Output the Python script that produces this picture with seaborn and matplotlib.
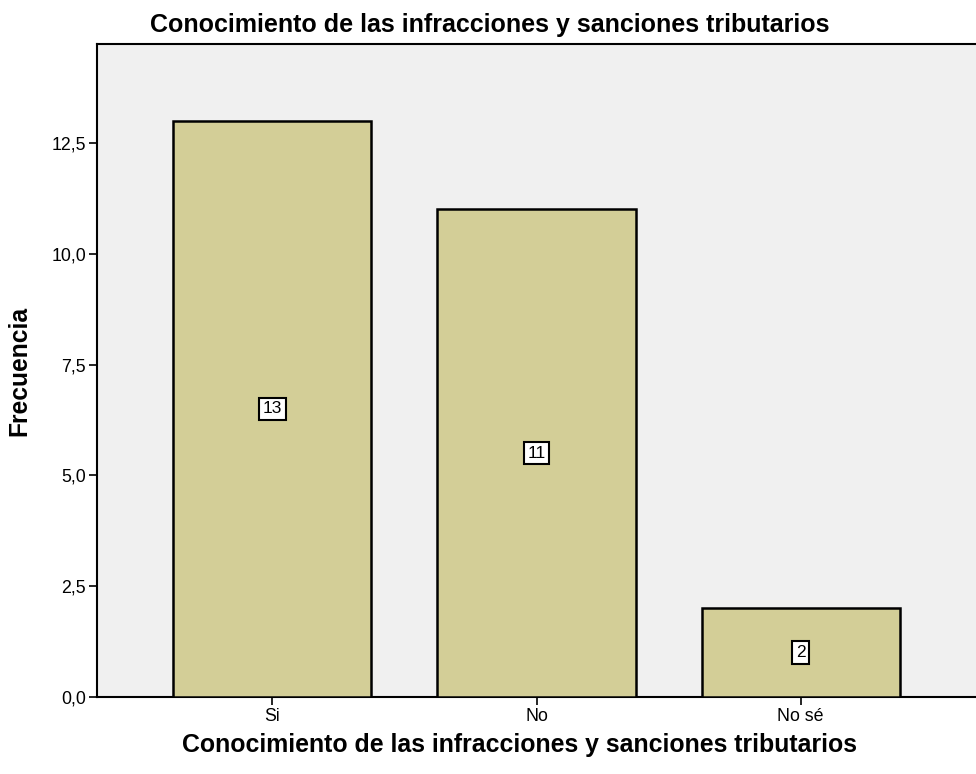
import matplotlib
matplotlib.use("Agg")
import matplotlib.pyplot as plt
import seaborn as sns
import pandas as pd

categories = ["Si", "No", "No sé"]
frecuencia = [13, 11, 2]
yticks = [0.0, 2.5, 5.0, 7.5, 10.0, 12.5]
ytick_labels = ["0,0", "2,5", "5,0", "7,5", "10,0", "12,5"]
title = "Conocimiento de las infracciones y sanciones tributarios"

sns.set_theme(style="white")
plt.rcParams['font.family'] = ['Liberation Sans', 'DejaVu Sans']
plt.rcParams['text.color'] = 'black'
plt.rcParams['axes.labelcolor'] = 'black'
plt.rcParams['xtick.color'] = 'black'
plt.rcParams['ytick.color'] = 'black'

df = pd.DataFrame({"cat": categories, "freq": frecuencia})

fig = plt.figure(figsize=(9.76, 7.74), dpi=100)
ax = fig.add_axes([97/976, 1-697/774, 1-97/976, (697-44)/774])
ax.set_facecolor("#F0F0F0")

sns.barplot(data=df, x="cat", y="freq", color="#D3CE97", saturation=1,
            width=0.75, edgecolor="black", linewidth=1.8, ax=ax, zorder=3)

for i, v in enumerate(frecuencia):
    ax.text(i, v/2, str(v), ha="center", va="center", fontsize=12.5, zorder=5,
            color="black",
            bbox=dict(boxstyle="square,pad=0.22", facecolor="white",
                      edgecolor="black", linewidth=1.5))

ax.set_xlim(-0.664, 2.664)
ax.set_ylim(0, 14.73)
ax.set_yticks(yticks)
ax.set_yticklabels(ytick_labels)
ax.tick_params(axis="both", direction="out", length=6, width=1.2, color="black",
               labelsize=12.8, pad=2, left=True, bottom=True, labelcolor="black")

for s in ["left", "bottom", "top"]:
    ax.spines[s].set_visible(True)
    ax.spines[s].set_color("black")
    ax.spines[s].set_linewidth(1.5)
ax.spines["right"].set_visible(False)

ax.set_xlabel("")
ax.set_ylabel("Frecuencia", fontsize=17.7, fontweight="bold", labelpad=14, color="black")
fig.text(519/976, 1-745/774, title, ha="center", va="center", fontsize=17.9,
         fontweight="bold", color="black")
fig.text(490/976, 1-25/774, title, ha="center", va="center", fontsize=18,
         fontweight="bold", color="black")

fig.savefig("out.png", dpi=100)
